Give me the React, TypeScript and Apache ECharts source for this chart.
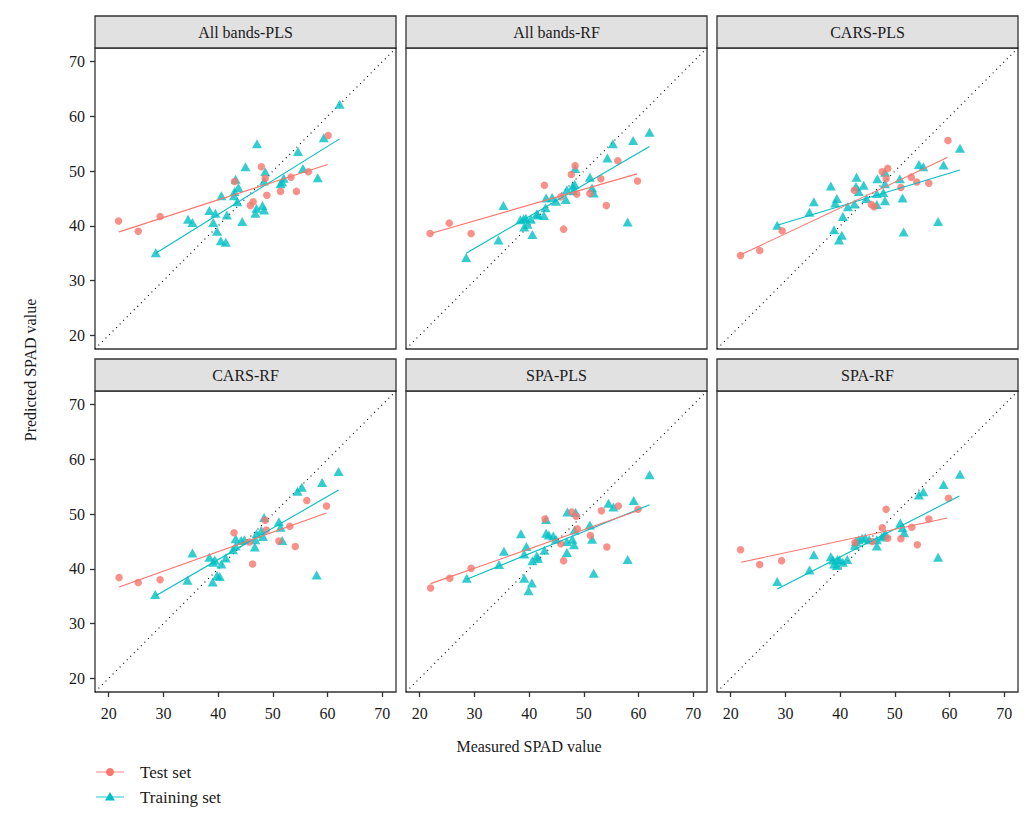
import React, { useEffect, useRef } from "react";
import * as echarts from "echarts";

// ---------- data ----------
const panelTitles = ["All bands-PLS", "All bands-RF", "CARS-PLS", "CARS-RF", "SPA-PLS", "SPA-RF"];
const tickValues = [20, 30, 40, 50, 60, 70];
const axisMin = 17.5;
const axisMax = 72.5;

const allPlsTest = [[21.8,40.9],[25.4,39.0],[29.4,41.7],[43.0,48.1],[45.9,43.7],[46.4,44.4],[47.9,50.8],[48.6,48.7],[48.9,45.6],[51.4,46.3],[53.3,48.9],[54.3,46.3],[56.5,49.9],[60.1,56.5]];
const allPlsTrain = [[28.6,35.1],[34.5,41.2],[35.3,40.6],[38.4,42.8],[39.1,40.6],[39.5,42.3],[39.8,39.0],[40.5,37.3],[41.4,37.0],[41.6,42.0],[40.6,45.5],[42.9,45.5],[43.0,46.3],[43.7,47.0],[43.2,48.5],[43.5,44.4],[44.4,40.8],[45.0,50.8],[47.1,55.0],[46.8,42.3],[47.0,43.2],[48.1,43.7],[48.4,42.9],[48.4,48.2],[48.6,49.9],[51.4,47.7],[51.7,48.0],[52.0,48.7],[54.6,53.6],[55.5,50.5],[58.2,48.8],[59.3,56.1],[62.2,62.2]];
const allPlsTestFit = [[21.9,38.9],[60.0,51.2]];
const allPlsTrainFit = [[28.6,35.0],[62.2,55.9]];

const allRfTest = [[21.9,38.6],[25.4,40.5],[29.4,38.6],[42.8,47.4],[46.3,39.4],[45.8,45.3],[47.7,49.4],[48.4,51.0],[48.7,45.8],[51.1,45.9],[53.1,48.6],[54.1,43.7],[56.2,51.9],[59.8,48.2]];
const allRfTrain = [[28.5,34.2],[34.4,37.4],[35.3,43.7],[38.4,41.1],[39.0,41.3],[39.4,41.4],[39.1,39.8],[39.7,40.3],[40.3,41.2],[40.6,38.4],[41.4,42.2],[41.6,42.0],[42.7,41.9],[43.0,43.3],[43.1,45.1],[44.2,45.2],[44.9,44.5],[46.9,46.6],[46.7,44.8],[48.0,47.3],[48.3,47.6],[48.4,50.5],[48.1,46.4],[51.1,48.9],[51.5,46.9],[51.8,46.0],[54.3,52.4],[55.3,55.0],[58.0,40.7],[59.0,55.6],[62.0,57.1]];
const allRfTestFit = [[22.0,38.6],[59.7,49.5]];
const allRfTrainFit = [[28.5,35.0],[62.0,54.5]];

const carsPlsTest = [[21.8,34.6],[25.3,35.5],[29.4,39.1],[42.6,46.5],[45.7,43.9],[46.2,43.5],[47.7,49.9],[48.7,50.5],[48.4,48.6],[51.1,47.0],[53.0,48.9],[54.0,48.0],[56.2,47.8],[59.7,55.6]];
const carsPlsTrain = [[28.5,40.1],[34.4,42.5],[35.2,44.4],[38.3,47.3],[38.9,39.3],[39.4,45.0],[39.1,44.2],[39.8,37.4],[40.3,38.3],[40.5,41.7],[41.4,43.5],[42.6,44.0],[43.0,48.9],[42.9,47.2],[43.4,46.3],[44.3,47.4],[44.8,45.0],[46.7,45.9],[46.7,43.9],[46.8,48.6],[47.9,46.1],[48.2,47.7],[48.2,49.8],[48.2,44.6],[50.9,48.6],[51.4,45.1],[51.6,38.9],[54.4,51.2],[55.2,50.8],[57.9,40.8],[58.9,51.1],[61.9,54.2]];
const carsPlsTestFit = [[21.8,34.7],[59.6,52.5]];
const carsPlsTrainFit = [[28.5,40.1],[61.9,50.2]];

const carsRfTest = [[21.9,38.4],[25.4,37.5],[29.4,38.0],[42.9,46.6],[46.3,40.9],[45.7,44.9],[48.6,48.9],[48.8,47.1],[51.1,45.1],[53.1,47.8],[54.1,44.1],[56.2,52.5],[59.8,51.5]];
const carsRfTrain = [[28.5,35.3],[34.4,37.9],[35.3,42.9],[38.4,42.1],[39.0,37.6],[39.4,41.6],[39.8,38.8],[40.3,38.6],[39.1,41.2],[40.6,40.9],[41.4,42.0],[42.7,43.5],[43.2,45.5],[43.2,44.2],[44.8,45.3],[44.2,45.2],[46.7,44.0],[46.8,45.3],[47.0,46.4],[47.9,47.0],[48.2,45.9],[48.4,49.4],[51.1,48.6],[51.4,47.6],[51.7,45.2],[54.5,54.2],[55.3,54.9],[58.0,38.9],[59.0,55.8],[62.0,57.8]];
const carsRfTestFit = [[21.9,36.7],[59.8,50.2]];
const carsRfTrainFit = [[28.6,35.1],[62.0,54.4]];

const spaPlsTest = [[22.0,36.5],[25.5,38.3],[29.4,40.1],[42.9,49.1],[45.8,44.6],[46.3,41.5],[47.8,50.4],[48.6,49.6],[48.8,47.3],[51.2,46.1],[53.2,50.6],[54.2,44.0],[56.3,51.5],[59.9,50.9]];
const spaPlsTrain = [[28.6,38.3],[34.5,40.8],[35.4,43.2],[38.5,46.4],[39.1,38.3],[39.5,44.1],[39.1,42.7],[39.9,36.0],[40.5,37.4],[40.6,41.5],[41.4,42.4],[41.6,41.9],[42.8,43.4],[43.1,49.0],[43.1,46.5],[43.6,46.2],[44.4,46.0],[44.9,45.4],[46.9,45.0],[46.9,43.0],[47.0,50.4],[48.5,50.3],[47.9,45.4],[48.2,44.4],[48.3,47.1],[51.1,48.0],[51.5,45.4],[51.8,39.2],[54.5,52.0],[55.4,51.3],[58.0,41.7],[59.1,52.5],[62.0,57.2]];
const spaPlsTestFit = [[22.0,37.3],[59.8,50.6]];
const spaPlsTrainFit = [[28.6,38.1],[62.0,51.7]];

const spaRfTest = [[21.8,43.5],[25.3,40.8],[29.3,41.5],[42.7,44.8],[45.9,45.0],[47.7,47.5],[48.4,50.9],[48.7,45.6],[51.1,45.5],[53.1,47.6],[54.1,44.4],[56.2,49.1],[59.8,52.9]];
const spaRfTrain = [[28.5,37.7],[34.4,39.8],[35.2,42.6],[38.3,42.2],[38.7,41.6],[38.9,40.9],[39.4,40.6],[39.9,41.6],[40.5,41.2],[41.3,41.7],[39.5,41.7],[42.7,44.3],[42.9,45.0],[43.4,45.3],[44.0,45.6],[44.6,45.7],[45.3,45.3],[46.7,44.2],[46.7,45.3],[47.6,45.8],[48.0,46.1],[48.3,46.4],[51.0,48.4],[51.7,46.6],[51.4,47.5],[54.4,53.5],[55.2,54.1],[57.9,42.1],[58.9,55.4],[61.9,57.3]];
const spaRfTestFit = [[21.9,41.2],[59.6,49.3]];
const spaRfTrainFit = [[28.5,36.3],[61.8,53.3]];

const testSets = [allPlsTest, allRfTest, carsPlsTest, carsRfTest, spaPlsTest, spaRfTest];
const trainSets = [allPlsTrain, allRfTrain, carsPlsTrain, carsRfTrain, spaPlsTrain, spaRfTrain];
const testFits = [allPlsTestFit, allRfTestFit, carsPlsTestFit, carsRfTestFit, spaPlsTestFit, spaRfTestFit];
const trainFits = [allPlsTrainFit, allRfTrainFit, carsPlsTrainFit, carsRfTrainFit, spaPlsTrainFit, spaRfTrainFit];

const legendLabels = ["Test set", "Training set"];

// ---------- styling / layout ----------
const TEST_COLOR = "#F8766D";
const TRAIN_COLOR = "#00BFC4";
const FONT = "'Liberation Serif', 'DejaVu Serif', serif";
const TEXT_COLOR = "#1a1a1a";
const BORDER = "#333333";
const colLeft = [95, 406, 717];
const rowTop = [48, 391];
const PANEL = 301;
const STRIP = 32;

function buildOption() {
  const grid: any[] = [];
  const xAxis: any[] = [];
  const yAxis: any[] = [];
  const series: any[] = [];
  const graphic: any[] = [];

  panelTitles.forEach((title, i) => {
    const col = i % 3;
    const row = Math.floor(i / 3);
    const left = colLeft[col];
    const top = rowTop[row];
    grid.push({
      left, top, width: PANEL, height: PANEL,
      show: true, borderColor: BORDER, borderWidth: 1.3, backgroundColor: "#fff",
      containLabel: false,
    });
    xAxis.push({
      gridIndex: i, type: "value", min: axisMin, max: axisMax,
      axisLine: { show: false },
      splitLine: { show: false },
      axisTick: { show: row === 1, customValues: tickValues, length: 5, lineStyle: { color: BORDER, width: 1.3 } },
      axisLabel: { show: row === 1, customValues: tickValues, fontSize: 16, color: TEXT_COLOR, fontFamily: FONT, margin: 13 },
    });
    yAxis.push({
      gridIndex: i, type: "value", min: axisMin, max: axisMax,
      axisLine: { show: false },
      splitLine: { show: false },
      axisTick: { show: col === 0, customValues: tickValues, length: 5, lineStyle: { color: BORDER, width: 1.3 } },
      axisLabel: { show: col === 0, customValues: tickValues, fontSize: 16, color: TEXT_COLOR, fontFamily: FONT, margin: 10 },
    });
    series.push({
      type: "line", xAxisIndex: i, yAxisIndex: i, silent: true, symbol: "none", z: 1,
      data: [[axisMin, axisMin], [axisMax, axisMax]],
      lineStyle: { color: "#000", width: 1.1, type: [1, 4] },
    });
    series.push({
      type: "scatter", name: legendLabels[1], xAxisIndex: i, yAxisIndex: i, z: 2,
      symbol: "triangle", symbolSize: [10, 9],
      itemStyle: { color: TRAIN_COLOR },
      data: trainSets[i],
    });
    series.push({
      type: "scatter", name: legendLabels[0], xAxisIndex: i, yAxisIndex: i, z: 3,
      symbol: "circle", symbolSize: 7.5,
      itemStyle: { color: TEST_COLOR },
      data: testSets[i],
    });
    series.push({
      type: "line", xAxisIndex: i, yAxisIndex: i, symbol: "none", z: 4, silent: true,
      data: trainFits[i], lineStyle: { color: TRAIN_COLOR, width: 1.1 },
    });
    series.push({
      type: "line", xAxisIndex: i, yAxisIndex: i, symbol: "none", z: 4, silent: true,
      data: testFits[i], lineStyle: { color: TEST_COLOR, width: 1.1 },
    });

    // facet strip
    graphic.push({
      type: "rect", silent: true,
      shape: { x: left, y: top - STRIP, width: PANEL, height: STRIP },
      style: { fill: "#e1e1e1", stroke: BORDER, lineWidth: 1.3 },
    });
    graphic.push({
      type: "text", silent: true,
      x: left + PANEL / 2, y: top - STRIP / 2,
      style: { text: title, fill: TEXT_COLOR, font: `16px ${FONT}`, align: "center", verticalAlign: "middle" },
    });
  });

  // axis titles
  graphic.push({
    type: "text", silent: true, x: 529, y: 746,
    style: { text: "Measured SPAD value", fill: TEXT_COLOR, font: `16px ${FONT}`, align: "center", verticalAlign: "middle" },
  });
  graphic.push({
    type: "text", silent: true, x: 30, y: 370, rotation: Math.PI / 2,
    style: { text: "Predicted SPAD value", fill: TEXT_COLOR, font: `16px ${FONT}`, align: "center", verticalAlign: "middle" },
  });

  // legend
  const legY = [772, 797];
  graphic.push({ type: "line", silent: true, shape: { x1: 96, y1: legY[0], x2: 124, y2: legY[0] }, style: { stroke: TEST_COLOR, lineWidth: 1.1, opacity: 0.8 } });
  graphic.push({ type: "circle", silent: true, shape: { cx: 110, cy: legY[0], r: 4 }, style: { fill: TEST_COLOR } });
  graphic.push({ type: "text", silent: true, x: 140, y: legY[0], style: { text: legendLabels[0], fill: TEXT_COLOR, font: `17px ${FONT}`, verticalAlign: "middle" } });
  graphic.push({ type: "line", silent: true, shape: { x1: 96, y1: legY[1], x2: 124, y2: legY[1] }, style: { stroke: TRAIN_COLOR, lineWidth: 1.1, opacity: 0.8 } });
  graphic.push({ type: "polygon", silent: true, shape: { points: [[110, legY[1] - 5], [115, legY[1] + 3.5], [105, legY[1] + 3.5]] }, style: { fill: TRAIN_COLOR } });
  graphic.push({ type: "text", silent: true, x: 140, y: legY[1], style: { text: legendLabels[1], fill: TEXT_COLOR, font: `17px ${FONT}`, verticalAlign: "middle" } });

  return {
    animation: false,
    backgroundColor: "#fff",
    grid, xAxis, yAxis, series, graphic,
  };
}

export default function App() {
  const ref = useRef<HTMLDivElement>(null);
  useEffect(() => {
    if (!ref.current) return;
    const chart = echarts.init(ref.current, undefined, { renderer: "svg" });
    chart.setOption(buildOption() as any);
    return () => chart.dispose();
  }, []);
  return (
    <div
      ref={ref}
      style={{ position: "absolute", left: 0, top: 0, width: 1035, height: 819, background: "#fff" }}
    />
  );
}
